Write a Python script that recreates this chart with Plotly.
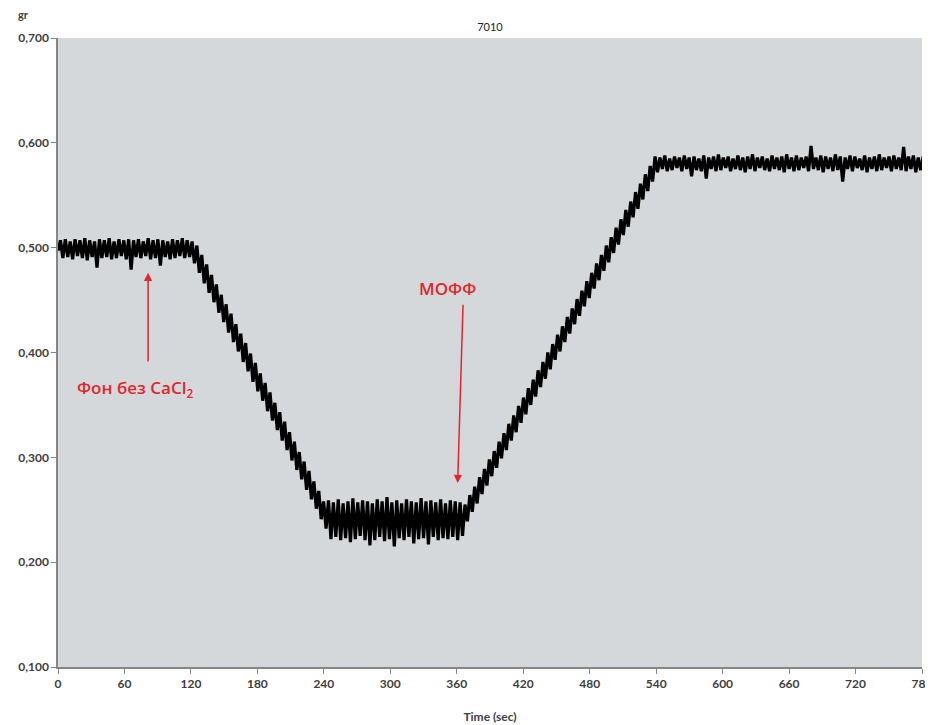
import plotly.graph_objects as go

step_sec = 2.2

baseline = [
    0.497, 0.507, 0.490, 0.508, 0.491, 0.506, 0.489, 0.508, 0.492, 0.507,
    0.490, 0.509, 0.488, 0.507, 0.491, 0.506, 0.481, 0.508, 0.490, 0.507,
    0.491, 0.509, 0.489, 0.506, 0.490, 0.508, 0.492, 0.507, 0.489, 0.508,
    0.479, 0.507, 0.491, 0.508, 0.490, 0.506, 0.492, 0.509, 0.489, 0.507,
    0.490, 0.508, 0.483, 0.507, 0.491, 0.506, 0.489, 0.508, 0.490, 0.507,
    0.492, 0.509, 0.490, 0.507, 0.491, 0.506,
]

descent = [
    0.485, 0.502, 0.476, 0.493, 0.466, 0.484, 0.457, 0.474, 0.448, 0.465,
    0.438, 0.455, 0.429, 0.446, 0.419, 0.437, 0.410, 0.427, 0.401, 0.418,
    0.391, 0.409, 0.382, 0.399, 0.372, 0.390, 0.363, 0.380, 0.354, 0.371,
    0.344, 0.362, 0.335, 0.352, 0.326, 0.343, 0.316, 0.334, 0.307, 0.324,
    0.297, 0.315, 0.288, 0.305, 0.279, 0.296, 0.269, 0.287, 0.260, 0.277,
    0.251, 0.268, 0.241, 0.258, 0.232,
]

bottom = [
    0.259, 0.222, 0.257, 0.224, 0.260, 0.221, 0.256, 0.223, 0.258, 0.219,
    0.261, 0.222, 0.257, 0.225, 0.259, 0.221, 0.258, 0.216, 0.256, 0.221,
    0.260, 0.224, 0.258, 0.220, 0.262, 0.222, 0.257, 0.215, 0.259, 0.223,
    0.256, 0.221, 0.260, 0.224, 0.258, 0.218, 0.257, 0.222, 0.261, 0.223,
    0.258, 0.217, 0.259, 0.224, 0.257, 0.221, 0.260, 0.223, 0.256, 0.222,
    0.259, 0.224, 0.258, 0.221, 0.257, 0.225,
]

ascent = [
    0.255, 0.239, 0.264, 0.248, 0.272, 0.256, 0.281, 0.265, 0.289, 0.273,
    0.298, 0.282, 0.306, 0.290, 0.315, 0.299, 0.323, 0.307, 0.332, 0.316,
    0.340, 0.324, 0.349, 0.333, 0.357, 0.341, 0.366, 0.350, 0.374, 0.358,
    0.383, 0.367, 0.391, 0.375, 0.400, 0.384, 0.408, 0.393, 0.417, 0.401,
    0.425, 0.410, 0.434, 0.418, 0.442, 0.427, 0.451, 0.435, 0.459, 0.444,
    0.468, 0.452, 0.476, 0.461, 0.485, 0.469, 0.493, 0.478, 0.502, 0.486,
    0.510, 0.495, 0.519, 0.503, 0.527, 0.512, 0.536, 0.520, 0.544, 0.529,
    0.553, 0.537, 0.561, 0.546, 0.570, 0.554, 0.578, 0.563, 0.587,
]

plateau = [
    0.572, 0.586, 0.575, 0.588, 0.573, 0.585, 0.574, 0.587, 0.576, 0.586,
    0.573, 0.588, 0.575, 0.586, 0.568, 0.587, 0.574, 0.585, 0.573, 0.588,
    0.566, 0.586, 0.575, 0.587, 0.573, 0.589, 0.574, 0.586, 0.576, 0.587,
    0.573, 0.585, 0.575, 0.588, 0.574, 0.586, 0.572, 0.587, 0.575, 0.589,
    0.573, 0.586, 0.576, 0.587, 0.574, 0.585, 0.573, 0.588, 0.575, 0.586,
    0.574, 0.587, 0.572, 0.589, 0.575, 0.586, 0.573, 0.588, 0.574, 0.586,
    0.576, 0.587, 0.573, 0.597, 0.575, 0.586, 0.574, 0.588, 0.572, 0.587,
    0.575, 0.586, 0.573, 0.589, 0.574, 0.587, 0.563, 0.586, 0.575, 0.588,
    0.573, 0.587, 0.576, 0.585, 0.574, 0.588, 0.572, 0.586, 0.575, 0.587,
    0.573, 0.589, 0.574, 0.586, 0.576, 0.587, 0.573, 0.588, 0.575, 0.586,
    0.574, 0.596, 0.573, 0.587, 0.575, 0.588, 0.572, 0.586, 0.574, 0.587,
]

weight_gr = baseline + descent + bottom + ascent + plateau
time_sec = [round(i * step_sec, 1) for i in range(len(weight_gr))]

x_ticks = [0, 60, 120, 180, 240, 300, 360, 420, 480, 540, 600, 660, 720, 780]
y_ticks = [0.1, 0.2, 0.3, 0.4, 0.5, 0.6, 0.7]

title_text = "7010"
x_title = "Time (sec)"
y_unit = "gr"
note1_text = "Фон без CaCl<sub>2</sub>"
note1_pos = (69.5, 0.366)
note1_arrow = (81.3, 0.476, 81.3, 0.390)   # tip x, tip y, tail x, tail y
note2_text = "МОФФ"
note2_pos = (352, 0.461)
note2_arrow = (360.8, 0.2755, 365.7, 0.447)

RED = "#e3262b"
TICKFONT = dict(family="Lato", size=12, color="#404040", weight="bold")

fig = go.Figure()
fig.add_trace(go.Scatter(
    x=time_sec, y=weight_gr, mode="lines",
    line=dict(color="black", width=3.2),
    showlegend=False, hoverinfo="x+y",
))

# page body has an 8px margin: figure is sized/placed to compensate
fig.update_layout(
    width=925, height=717,
    margin=dict(l=50, r=11, t=30, b=58, autoexpand=False),
    paper_bgcolor="white",
    plot_bgcolor="#d4d8db",
    separators=",.",
    title=dict(text=title_text, x=0.521, xanchor="center", y=0.9735, yanchor="middle",
               font=dict(family="Lato", size=11, color="#222222")),
    xaxis=dict(
        range=[0, 780], tickmode="array", tickvals=x_ticks,
        ticks="outside", ticklen=5, tickcolor="#868686",
        showline=True, linecolor="#868686", linewidth=1.5,
        showgrid=False, zeroline=False, automargin=False,
        ticklabeloverflow="allow",
        tickfont=TICKFONT,
        title=dict(text="<b>" + x_title + "</b>",
                   font=dict(family="Lato", size=12, color="#404040"),
                   standoff=22),
    ),
    yaxis=dict(
        range=[0.1, 0.7], tickmode="array", tickvals=y_ticks,
        tickformat=".3f",
        ticks="outside", ticklen=5, tickcolor="#868686",
        showline=True, linecolor="#868686", linewidth=1.5,
        showgrid=False, zeroline=False, automargin=False,
        tickfont=TICKFONT,
    ),
)

fig.add_annotation(
    text="<b>" + y_unit + "</b>", xref="paper", yref="paper",
    x=-0.0405, y=1.0366, xanchor="center", yanchor="middle", showarrow=False,
    font=dict(family="Lato", size=11, color="#404040"),
)

# arrow 1
fig.add_annotation(
    x=note1_arrow[0], y=note1_arrow[1], ax=note1_arrow[2], ay=note1_arrow[3],
    xref="x", yref="y", axref="x", ayref="y", text="", showarrow=True,
    arrowhead=2, arrowsize=1.1, arrowwidth=1.5, arrowcolor=RED,
)
fig.add_annotation(
    x=note1_pos[0], y=note1_pos[1], xref="x", yref="y", text=note1_text,
    showarrow=False, font=dict(family="Open Sans", size=17, color=RED, weight=600),
)
# arrow 2
fig.add_annotation(
    x=note2_arrow[0], y=note2_arrow[1], ax=note2_arrow[2], ay=note2_arrow[3],
    xref="x", yref="y", axref="x", ayref="y", text="", showarrow=True,
    arrowhead=2, arrowsize=1.1, arrowwidth=1.5, arrowcolor=RED,
)
fig.add_annotation(
    x=note2_pos[0], y=note2_pos[1], xref="x", yref="y", text=note2_text,
    showarrow=False, font=dict(family="Open Sans", size=17, color=RED, weight=600),
)

fig.write_html("out.html")
